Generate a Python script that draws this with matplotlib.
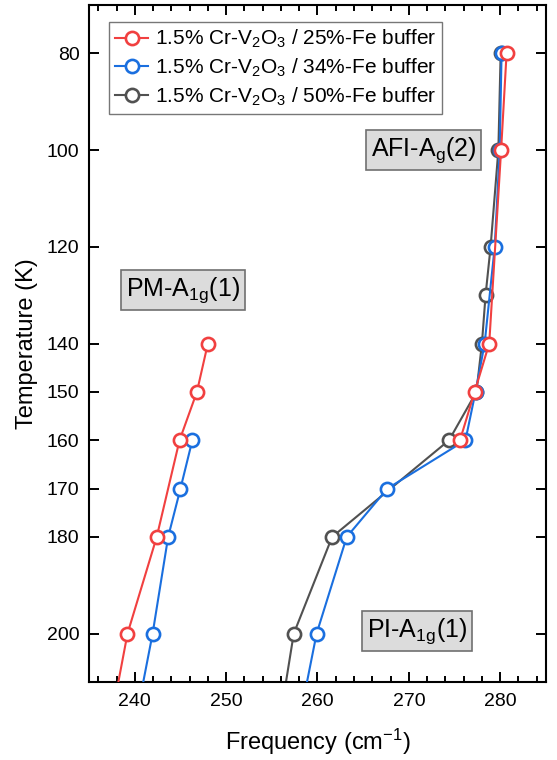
import matplotlib
matplotlib.use("Agg")
import matplotlib.pyplot as plt
from matplotlib.ticker import MultipleLocator

plt.rcParams['font.family'] = ['Liberation Sans', 'DejaVu Sans']
plt.rcParams['mathtext.fontset'] = 'custom'
plt.rcParams['mathtext.rm'] = 'Liberation Sans'
plt.rcParams['mathtext.it'] = 'Liberation Sans'

# PM-A1g(1) mode (left branch)
t_pm_25 = [140, 150, 160, 180, 200, 220]
f_pm_25 = [248.0, 246.8, 244.9, 242.4, 239.2, 237.2]
t_pm_34 = [160, 170, 180, 200, 220]
f_pm_34 = [246.3, 245.0, 243.65, 241.95, 239.9]

# AFI-Ag(2) / PI-A1g(1) mode (right branch)
t_afi_25 = [80, 100, 140, 150, 160]
f_afi_25 = [280.7, 280.1, 278.8, 277.2, 275.6]
t_afi_34 = [80, 100, 120, 140, 150, 160, 170, 180, 200, 220]
f_afi_34 = [280.15, 279.95, 279.4, 278.3, 277.3, 276.2, 267.65, 263.2, 259.9, 257.8]
t_afi_50 = [80, 100, 120, 130, 140, 150, 160, 180, 200, 220]
f_afi_50 = [280.05, 279.8, 278.95, 278.4, 278.0, 277.4, 274.4, 261.6, 257.4, 255.7]

labels = [r'1.5% Cr-V$_2$O$_3$ / 25%-Fe buffer',
          r'1.5% Cr-V$_2$O$_3$ / 34%-Fe buffer',
          r'1.5% Cr-V$_2$O$_3$ / 50%-Fe buffer']
colors = ['#F14040', '#1A6FDF', '#515151']
y_ticks = [80, 100, 120, 140, 150, 160, 170, 180, 200]

fig = plt.figure(figsize=(5.57, 7.6), dpi=100)
ax = fig.add_axes([0.16, 0.1026, 0.82, 0.8908])

stil = dict(marker='o', markersize=9.5, markerfacecolor='white',
            markeredgewidth=1.9, linewidth=1.5)

# ciz sirasi: gri en altta
ax.plot(f_afi_50, t_afi_50, color=colors[2], label=labels[2], zorder=2, **stil)
ax.plot(f_afi_34, t_afi_34, color=colors[1], label=labels[1], zorder=3, **stil)
ax.plot(f_pm_34, t_pm_34, color=colors[1], zorder=3, **stil)
ax.plot(f_afi_25, t_afi_25, color=colors[0], label=labels[0], zorder=4, **stil)
ax.plot(f_pm_25, t_pm_25, color=colors[0], zorder=4, **stil)

ax.set_xlim(235, 285)
ax.set_ylim(210, 70)
ax.set_yticks(y_ticks)
ax.xaxis.set_major_locator(MultipleLocator(10))
ax.xaxis.set_minor_locator(MultipleLocator(2))
ax.tick_params(which='both', direction='in', top=True, right=True,
               labelsize=14, width=1.4)
ax.tick_params(axis='x', pad=8)
ax.tick_params(axis='y', pad=7)
ax.tick_params(which='major', length=7)
ax.tick_params(which='minor', length=4)
for s in ax.spines.values():
    s.set_linewidth(1.5)

ax.set_xlabel('Frequency (cm$^{-1}$)', fontsize=17, labelpad=12)
ax.set_ylabel('Temperature (K)', fontsize=17, labelpad=6)

h, l = ax.get_legend_handles_labels()
order = [2, 1, 0]
leg = ax.legend([h[i] for i in order], [l[i] for i in order], loc='upper left',
                bbox_to_anchor=(0.043, 0.975), fontsize=15, fancybox=False,
                edgecolor='#555555', handlelength=1.6, handletextpad=0.3,
                borderpad=0.3, labelspacing=0.3, borderaxespad=0)
leg.get_frame().set_linewidth(1.0)

kutu = dict(boxstyle='square,pad=0.2', facecolor='#DCDCDC', edgecolor='#707070', linewidth=1.2)
ax.text(271.6, 100, 'AFI-A$_g$(2)', fontsize=18, ha='center', va='center', bbox=kutu)
ax.text(245.3, 129, 'PM-A$_{1g}$(1)', fontsize=18, ha='center', va='center', bbox=kutu)
ax.text(270.9, 199.5, 'PI-A$_{1g}$(1)', fontsize=18, ha='center', va='center', bbox=kutu)

fig.savefig('out.png', dpi=100)
